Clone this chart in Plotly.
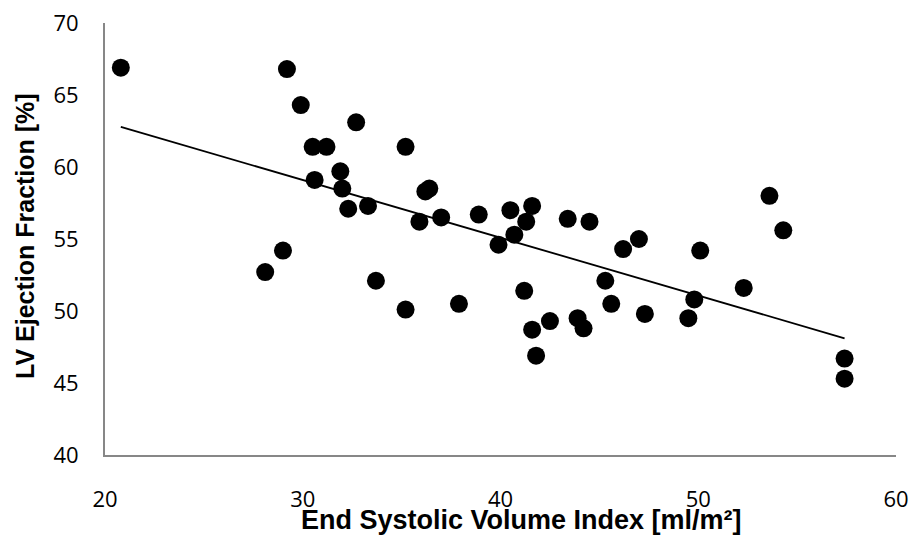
import numpy as np
import plotly.graph_objects as go

esvi = [20.8, 29.2, 29.9, 30.5, 31.2, 32.7, 35.2, 31.9, 30.6, 32.0, 32.3, 33.3,
        36.2, 36.4, 35.9, 37.0, 29.0, 28.1, 33.7, 35.2, 37.9, 38.9, 40.5, 41.6,
        41.3, 40.7, 39.9, 43.4, 44.5, 47.0, 46.2, 50.1, 53.6, 54.3, 41.2, 45.3,
        45.6, 47.3, 49.8, 49.5, 52.3, 42.5, 41.6, 43.9, 44.2, 41.8, 57.4, 57.4]
lvef = [66.9, 66.8, 64.3, 61.4, 61.4, 63.1, 61.4, 59.7, 59.1, 58.5, 57.1, 57.3,
        58.3, 58.5, 56.2, 56.5, 54.2, 52.7, 52.1, 50.1, 50.5, 56.7, 57.0, 57.3,
        56.2, 55.3, 54.6, 56.4, 56.2, 55.0, 54.3, 54.2, 58.0, 55.6, 51.4, 52.1,
        50.5, 49.8, 50.8, 49.5, 51.6, 49.3, 48.7, 49.5, 48.8, 46.9, 46.7, 45.3]

x_ticks = [20, 30, 40, 50, 60]
y_ticks = [40, 45, 50, 55, 60, 65, 70]

slope, intercept = np.polyfit(esvi, lvef, 1)
fit_x = [min(esvi), max(esvi)]
fit_y = [intercept + slope * v for v in fit_x]

fig = go.Figure()
fig.add_trace(go.Scatter(x=fit_x, y=fit_y, mode="lines",
                         line=dict(color="black", width=1.8), hoverinfo="skip"))
fig.add_trace(go.Scatter(x=esvi, y=lvef, mode="markers",
                         marker=dict(color="black", size=18, line=dict(width=0))))

tickfont = dict(family="Open Sans", size=22, color="black")
L, R, T, B = 105, 896, 23, 455
W, H = R - L, B - T
fig.update_layout(
    width=912, height=542,
    margin=dict(l=L, r=912 - R, t=T, b=542 - B),
    paper_bgcolor="white", plot_bgcolor="white",
    showlegend=False,
    xaxis=dict(range=[20, 60], tickvals=x_ticks, showgrid=False, zeroline=False,
               showline=True, linecolor="#878787", linewidth=2, automargin=False,
               ticks="outside", ticklen=24, tickcolor="rgba(0,0,0,0)",
               tickfont=tickfont),
    yaxis=dict(range=[40, 70], tickvals=y_ticks, showgrid=False, zeroline=False,
               showline=True, linecolor="#878787", linewidth=2, automargin=False,
               ticks="outside", ticklen=20, tickcolor="rgba(0,0,0,0)",
               tickfont=tickfont),
    annotations=[
        dict(text="<b>End Systolic Volume Index [ml/m²]</b>", xref="paper", yref="paper",
             x=(521 - L) / W, y=-(520 - B) / H, showarrow=False,
             xanchor="center", yanchor="middle",
             font=dict(family="Liberation Sans", size=27, color="black")),
        dict(text="<b>LV Ejection Fraction [%]</b>", xref="paper", yref="paper",
             x=-(L - 25) / W, y=(B - 236) / H, showarrow=False, textangle=-90,
             xanchor="center", yanchor="middle",
             font=dict(family="Liberation Sans", size=25, color="black")),
    ],
)
fig.write_html("out.html")
